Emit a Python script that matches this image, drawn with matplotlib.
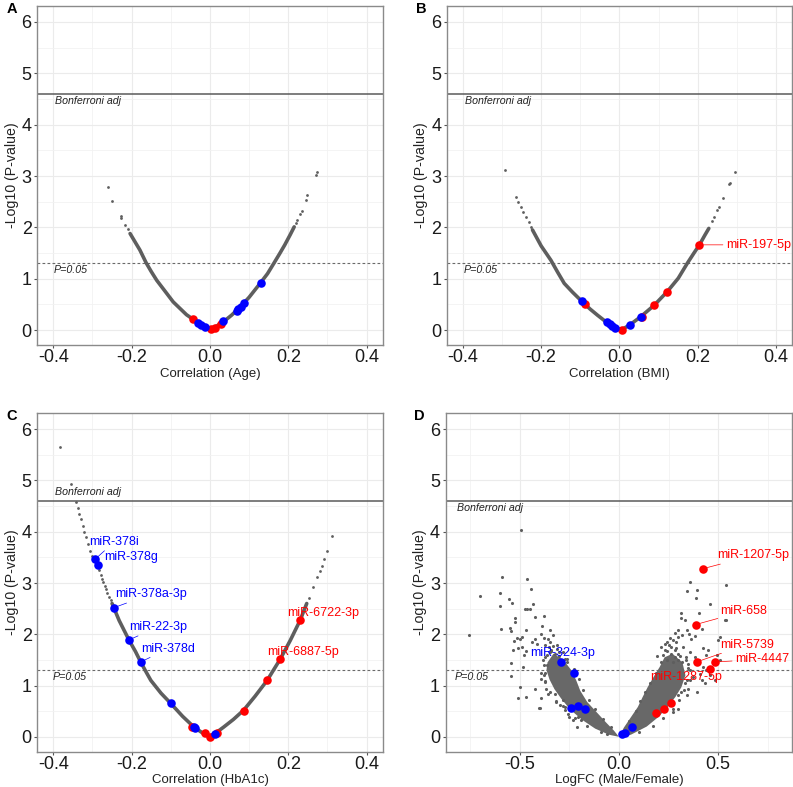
import numpy as np
from matplotlib import pyplot as plt
from matplotlib.ticker import MultipleLocator, FormatStrFormatter

plt.rcParams['font.family'] = ['Liberation Sans', 'DejaVu Sans']
plt.rcParams['axes.unicode_minus'] = False

GREY = '#5e5e5e'
RED = '#ff0000'
BLUE = '#0000ff'
BONF = 4.6
P05 = 1.301

## Panel A (Age): dense part of the curve, sparse tail dots, highlighted miRNAs
a_curve_x = [-0.204, -0.190, -0.179, -0.163, -0.150, -0.136, -0.115, -0.094, -0.075, -0.060, -0.043,
             -0.027, -0.013, 0.000, 0.013, 0.034, 0.055, 0.077, 0.100, 0.129, 0.147, 0.163, 0.178, 0.191, 0.205, 0.215]
a_curve_y = [1.88, 1.70, 1.56, 1.31, 1.14, 0.97, 0.76, 0.55, 0.41, 0.30, 0.21,
             0.13, 0.06, 0.01, 0.06, 0.16, 0.29, 0.45, 0.64, 0.92, 1.10, 1.30, 1.49, 1.66, 1.86, 2.01]
a_tail_x = [-0.260, -0.250, -0.228, -0.226, -0.217, -0.210, 0.219, 0.223, 0.230, 0.234, 0.245, 0.248, 0.270, 0.274]
a_tail_y = [2.78, 2.51, 2.22, 2.19, 2.05, 1.96, 2.09, 2.14, 2.27, 2.32, 2.53, 2.63, 3.02, 3.08]
a_red_x = [-0.043, 0.003, 0.013, 0.028]
a_red_y = [0.21, 0.02, 0.05, 0.12]
a_blue_x = [-0.030, -0.022, -0.013, 0.034, 0.068, 0.072, 0.078, 0.087, 0.130]
a_blue_y = [0.14, 0.10, 0.07, 0.17, 0.38, 0.41, 0.45, 0.52, 0.91]

## Panel B (BMI)
b_curve_x = [-0.222, -0.200, -0.175, -0.158, -0.141, -0.120, -0.096, -0.075, -0.056, -0.031, -0.012, 0.006,
             0.026, 0.054, 0.088, 0.122, 0.150, 0.173, 0.190, 0.204, 0.218, 0.228]
b_curve_y = [1.95, 1.64, 1.36, 1.13, 0.91, 0.74, 0.56, 0.41, 0.29, 0.14, 0.05, 0.01,
             0.10, 0.26, 0.48, 0.75, 1.01, 1.30, 1.50, 1.66, 1.85, 1.98]
b_tail_x = [-0.292, -0.264, -0.258, -0.251, -0.245, -0.239, -0.232, -0.226,
            0.236, 0.241, 0.250, 0.254, 0.265, 0.279, 0.281, 0.294]
b_tail_y = [3.12, 2.59, 2.49, 2.40, 2.30, 2.21, 2.10, 2.01,
            2.12, 2.21, 2.34, 2.40, 2.58, 2.84, 2.86, 3.07]
b_red_x = [-0.088, 0.006, 0.058, 0.088, 0.122, 0.204]
b_red_y = [0.50, 0.01, 0.25, 0.48, 0.75, 1.66]
b_blue_x = [-0.096, -0.032, -0.024, -0.018, -0.011, 0.026, 0.054]
b_blue_y = [0.57, 0.16, 0.12, 0.08, 0.05, 0.10, 0.26]
b_labels = ['miR-197-5p']

## Panel C (HbA1c)
c_curve_x = [-0.250, -0.232, -0.207, -0.190, -0.177, -0.165, -0.151, -0.125, -0.100, -0.070, -0.041, -0.020, 0.000,
             0.014, 0.035, 0.060, 0.086, 0.115, 0.146, 0.162, 0.179, 0.205, 0.230, 0.247]
c_curve_y = [2.60, 2.27, 1.89, 1.66, 1.46, 1.29, 1.10, 0.85, 0.65, 0.40, 0.19, 0.08, 0.01,
             0.07, 0.19, 0.34, 0.52, 0.79, 1.10, 1.30, 1.51, 1.88, 2.27, 2.60]
c_tail_x = [-0.382, -0.355, -0.342, -0.338, -0.334, -0.330, -0.325, -0.321, -0.317, -0.312, -0.306, -0.300,
            -0.283, -0.279, -0.275, -0.272, -0.269, -0.266, -0.262, -0.258, -0.254,
            0.254, 0.264, 0.273, 0.281, 0.285, 0.290, 0.298, 0.3125]
c_tail_y = [5.66, 4.93, 4.59, 4.47, 4.35, 4.25, 4.12, 3.99, 3.89, 3.76, 3.63, 3.52,
            3.25, 3.15, 3.08, 3.02, 2.95, 2.89, 2.80, 2.72, 2.66,
            2.71, 2.92, 3.11, 3.24, 3.34, 3.47, 3.63, 3.91]
c_red_x = [-0.045, -0.014, 0.000, 0.017, 0.086, 0.146, 0.179, 0.230]
c_red_y = [0.20, 0.07, 0.00, 0.07, 0.51, 1.10, 1.51, 2.27]
c_blue_x = [-0.294, -0.287, -0.245, -0.207, -0.177, -0.100, -0.042, -0.038, 0.014]
c_blue_y = [3.46, 3.35, 2.52, 1.89, 1.46, 0.65, 0.19, 0.18, 0.06]
c_labels = ['miR-378i', 'miR-378g', 'miR-378a-3p', 'miR-22-3p', 'miR-378d', 'miR-6722-3p', 'miR-6887-5p']

## Panel D (Male/Female): outlines of the dense V core + scattered miRNAs
d_core_left_x = [-0.33, -0.36, -0.365, -0.35, -0.325, -0.29, -0.245, -0.185, -0.12, -0.05, 0.0,
                 -0.025, -0.065, -0.11, -0.16, -0.195, -0.215, -0.24, -0.28]
d_core_left_y = [1.62, 1.45, 1.30, 1.12, 0.93, 0.74, 0.53, 0.33, 0.16, 0.04, 0.0,
                 0.12, 0.28, 0.47, 0.68, 0.90, 1.10, 1.30, 1.50]
d_core_right_x = [0.0, 0.025, 0.06, 0.095, 0.12, 0.145, 0.175, 0.205, 0.23, 0.27,
                  0.32, 0.335, 0.315, 0.285, 0.245, 0.20, 0.14, 0.06]
d_core_right_y = [0.0, 0.18, 0.38, 0.58, 0.78, 0.97, 1.17, 1.36, 1.55, 1.62,
                  1.45, 1.20, 0.97, 0.78, 0.58, 0.39, 0.20, 0.04]
d_pts_x = [-0.492, -0.589, -0.699, -0.601, -0.601, -0.554, -0.537, -0.461, -0.441, -0.475, -0.462, -0.449,
           -0.433, -0.756, -0.596, -0.525, -0.523, -0.425, -0.379, -0.466, -0.542, -0.516, -0.500, -0.488,
           -0.529, -0.509, -0.534, -0.486, -0.478, -0.466, -0.438, -0.424, -0.411, -0.391, -0.377, -0.357,
           -0.349, -0.545, -0.483, -0.542, -0.500, -0.508, -0.466, -0.421, -0.393, -0.391, -0.374, -0.366,
           -0.357, -0.393, -0.402, -0.399, -0.323, -0.315, -0.298, -0.282, -0.273, -0.253, -0.231, -0.209,
           -0.256, -0.206, -0.189, -0.390, -0.349, -0.332, -0.372, -0.340, -0.320, -0.300, -0.360, -0.330,
           -0.310, -0.280, -0.270, -0.260, -0.547, -0.380, -0.360, -0.385, -0.345,
           0.357, 0.344, 0.394, 0.387, 0.539, 0.458, 0.312, 0.404, 0.311, 0.333, 0.535, 0.508, 0.500, 0.416,
           0.344, 0.353, 0.382, 0.365, 0.299, 0.320, 0.256, 0.273, 0.243, 0.214, 0.231, 0.290, 0.324, 0.424,
           0.449, 0.441, 0.382, 0.404, 0.492, 0.508, 0.424, 0.441, 0.407, 0.374, 0.349, 0.344, 0.394, 0.332,
           0.357, 0.416, 0.299, 0.273, 0.299, 0.315, 0.537, 0.483, 0.433, 0.458, 0.260, 0.280, 0.300, 0.320,
           0.350, 0.240, 0.270, 0.340, 0.360, 0.300, 0.360, 0.300, 0.220, 0.250, 0.280]
d_pts_y = [4.04, 3.12, 2.75, 2.80, 2.55, 2.69, 2.61, 3.07, 2.89, 2.50, 2.50, 2.49,
           2.59, 1.98, 2.11, 2.31, 2.24, 2.33, 2.35, 2.08, 2.06, 1.92, 1.90, 1.95,
           1.87, 1.74, 1.70, 1.75, 1.60, 1.67, 1.84, 1.90, 1.81, 2.01, 1.92, 1.91,
           1.85, 1.43, 1.37, 1.19, 0.97, 0.75, 0.78, 0.94, 1.25, 1.13, 1.06, 0.93,
           0.83, 0.75, 0.56, 0.57, 0.84, 0.68, 0.62, 0.71, 0.58, 0.39, 0.32, 0.19,
           0.45, 0.39, 0.32, 2.17, 2.08, 1.98, 1.79, 1.70, 1.62, 1.58, 1.60, 1.78,
           1.72, 1.65, 1.52, 1.45, 2.13, 1.20, 1.40, 1.50, 1.65,
           3.01, 2.85, 2.87, 2.71, 2.97, 2.60, 2.42, 2.42, 2.31, 2.28, 2.28, 1.94, 1.88, 2.11,
           2.08, 2.00, 1.96, 1.90, 2.08, 1.98, 1.92, 1.88, 1.85, 1.76, 1.70, 1.73, 1.76, 1.73,
           1.70, 1.60, 1.56, 1.49, 1.60, 1.49, 1.36, 1.30, 1.23, 1.17, 0.94, 0.81, 0.88, 1.04,
           1.10, 1.10, 0.55, 0.49, 0.81, 0.88, 2.27, 1.10, 1.04, 1.20, 1.62, 1.55, 1.50, 1.45,
           1.42, 1.50, 1.45, 1.55, 1.30, 1.62, 1.65, 1.95, 1.60, 1.80, 2.02]
# loose dots along the edges of the dense core
d_edge_x = [-0.37, -0.38, -0.375, -0.37, -0.345, -0.315, -0.28, -0.27, -0.22, -0.16, -0.09, -0.06,
            -0.04, -0.08, -0.12, -0.15, -0.18, -0.20, -0.225, -0.26, -0.30, -0.34, -0.35, -0.31,
            0.34, 0.35, 0.345, 0.33, 0.305, 0.27, 0.22, 0.17, 0.10, 0.05, 0.085, 0.105, 0.13, 0.155,
            0.185, 0.21, 0.24, 0.28, 0.31, 0.23, 0.26, 0.19, 0.29]
d_edge_y = [1.55, 1.40, 1.25, 1.08, 0.88, 0.70, 0.60, 0.52, 0.36, 0.22, 0.09, 0.05,
            0.20, 0.35, 0.55, 0.72, 0.92, 1.12, 1.32, 1.52, 1.66, 1.68, 1.75, 1.80,
            1.50, 1.35, 1.10, 0.92, 0.72, 0.55, 0.36, 0.22, 0.10, 0.30, 0.50, 0.70, 0.88, 1.05,
            1.25, 1.45, 1.68, 1.70, 1.58, 1.82, 1.76, 1.58, 1.85]
d_red_x = [0.424, 0.387, 0.391, 0.483, 0.458, 0.189, 0.226, 0.261]
d_red_y = [3.28, 2.19, 1.46, 1.46, 1.33, 0.46, 0.54, 0.65]
d_blue_x = [-0.293, -0.228, -0.240, -0.206, -0.172, 0.013, 0.029, 0.066]
d_blue_y = [1.46, 1.24, 0.57, 0.60, 0.54, 0.05, 0.07, 0.19]
d_labels = ['miR-1207-5p', 'miR-658', 'miR-5739', 'miR-4447', 'miR-324-3p', 'miR-1287-5p']


def setup(ax, xlim, major, minor, xlabel, letter, bonf_xy, p_xy):
	ax.set_xlim(-xlim, xlim)
	ax.set_ylim(-0.29, 6.31)
	ax.xaxis.set_major_locator(MultipleLocator(major))
	ax.xaxis.set_minor_locator(MultipleLocator(minor))
	ax.xaxis.set_major_formatter(FormatStrFormatter('%.1f'))
	ax.yaxis.set_major_locator(MultipleLocator(1))
	ax.yaxis.set_minor_locator(MultipleLocator(0.5))
	ax.grid(True, which='major', color='#ebebeb', lw=0.8)
	ax.grid(True, which='minor', color='#f2f2f2', lw=0.6)
	ax.set_axisbelow(True)
	for s in ax.spines.values():
		s.set_color('#8a8a8a')
		s.set_linewidth(1.0)
	ax.tick_params(which='major', labelsize=13, length=2.5, width=0.8, color='#555555', labelcolor='#1a1a1a')
	ax.tick_params(axis='x', which='major', pad=0.5)
	ax.tick_params(axis='y', which='major', pad=1.5)
	ax.tick_params(which='minor', length=0)
	ax.set_xlabel(xlabel, fontsize=9.5, labelpad=1, color='#222222')
	ax.set_ylabel('-Log10 (P-value)', fontsize=10.2, labelpad=2, color='#222222')
	ax.axhline(BONF, color='#5a5a5a', lw=1.1, zorder=2)
	ax.axhline(P05, color='#6a6a6a', lw=0.8, ls=(0, (2.5, 2)), zorder=2)
	ax.text(bonf_xy[0], bonf_xy[1], 'Bonferroni adj', fontsize=7.7, style='italic', va='center', color='#222222')
	ax.text(p_xy[0], p_xy[1], 'P=0.05', fontsize=7.7, style='italic', va='center', color='#222222')
	ax.text(-0.09, 1.012, letter, transform=ax.transAxes, fontsize=10.5, fontweight='bold', va='top', ha='left')


def dots(ax, cx, cy, tx, ty, rx, ry, bx, by):
	ax.plot(cx, cy, color=GREY, lw=2.6, solid_capstyle='round', zorder=3)
	ax.scatter(tx, ty, s=4, color=GREY, lw=0, zorder=3)
	ax.scatter(rx, ry, s=38, color=RED, lw=0, zorder=4)
	ax.scatter(bx, by, s=38, color=BLUE, lw=0, zorder=5)


def label(ax, name, tx, ty, px, py, color, seg=True):
	ap = dict(arrowstyle='-', color=color, lw=0.5, shrinkA=0, shrinkB=3) if seg else None
	ax.annotate(name, xy=(px, py), xytext=(tx, ty), fontsize=9, color=color, ha='left', va='center',
		arrowprops=ap, zorder=6, annotation_clip=False)


fig = plt.figure(figsize=(7.93, 7.87), dpi=100)
axA = fig.add_axes([0.047, 0.5616, 0.4356, 0.4308])
axB = fig.add_axes([0.5633, 0.5616, 0.4358, 0.4308])
axC = fig.add_axes([0.047, 0.0449, 0.4356, 0.4299])
axD = fig.add_axes([0.5620, 0.0449, 0.4370, 0.4299])

setup(axA, 0.441, 0.2, 0.1, 'Correlation (Age)', 'A', (-0.396, 4.47), (-0.400, 1.17))
dots(axA, a_curve_x, a_curve_y, a_tail_x, a_tail_y, a_red_x, a_red_y, a_blue_x, a_blue_y)

setup(axB, 0.441, 0.2, 0.1, 'Correlation (BMI)', 'B', (-0.394, 4.47), (-0.398, 1.17))
dots(axB, b_curve_x, b_curve_y, b_tail_x, b_tail_y, b_red_x, b_red_y, b_blue_x, b_blue_y)
label(axB, b_labels[0], 0.271, 1.66, 0.204, 1.66, RED)

setup(axC, 0.441, 0.2, 0.1, 'Correlation (HbA1c)', 'C', (-0.396, 4.78), (-0.402, 1.17))
dots(axC, c_curve_x, c_curve_y, c_tail_x, c_tail_y, c_red_x, c_red_y, c_blue_x, c_blue_y)
c_pos = [(-0.308, 3.80, -0.294, 3.46, BLUE), (-0.270, 3.51, -0.287, 3.35, BLUE),
	(-0.243, 2.78, -0.245, 2.52, BLUE), (-0.207, 2.14, -0.207, 1.89, BLUE),
	(-0.175, 1.72, -0.177, 1.46, BLUE), (0.196, 2.41, 0.230, 2.27, RED), (0.146, 1.65, 0.179, 1.51, RED)]
for name, (tx, ty, px, py, col) in zip(c_labels, c_pos):
	label(axC, name, tx, ty, px, py, col, seg=col == BLUE)

setup(axD, 0.873, 0.5, 0.25, 'LogFC (Male/Female)', 'D', (-0.814, 4.46), (-0.830, 1.16))
axD.fill(d_core_left_x, d_core_left_y, color='#686868', lw=0, zorder=3)
axD.fill(d_core_right_x, d_core_right_y, color='#686868', lw=0, zorder=3)
axD.scatter(d_pts_x, d_pts_y, s=5, color=GREY, lw=0, zorder=3)
axD.scatter(d_edge_x, d_edge_y, s=5, color=GREY, lw=0, zorder=3)
axD.scatter(d_red_x, d_red_y, s=38, color=RED, lw=0, zorder=4)
axD.scatter(d_blue_x, d_blue_y, s=38, color=BLUE, lw=0, zorder=5)
d_pos = [(0.497, 3.54, 0.424, 3.28, RED, True), (0.512, 2.45, 0.387, 2.19, RED, True),
	(0.508, 1.80, 0.391, 1.46, RED, True), (0.584, 1.51, 0.483, 1.46, RED, True),
	(-0.445, 1.63, -0.293, 1.46, BLUE, False), (0.155, 1.17, 0.458, 1.33, RED, False)]
for name, (tx, ty, px, py, col, seg) in zip(d_labels, d_pos):
	label(axD, name, tx, ty, px, py, col, seg)

fig.savefig('out.png', dpi=100)
